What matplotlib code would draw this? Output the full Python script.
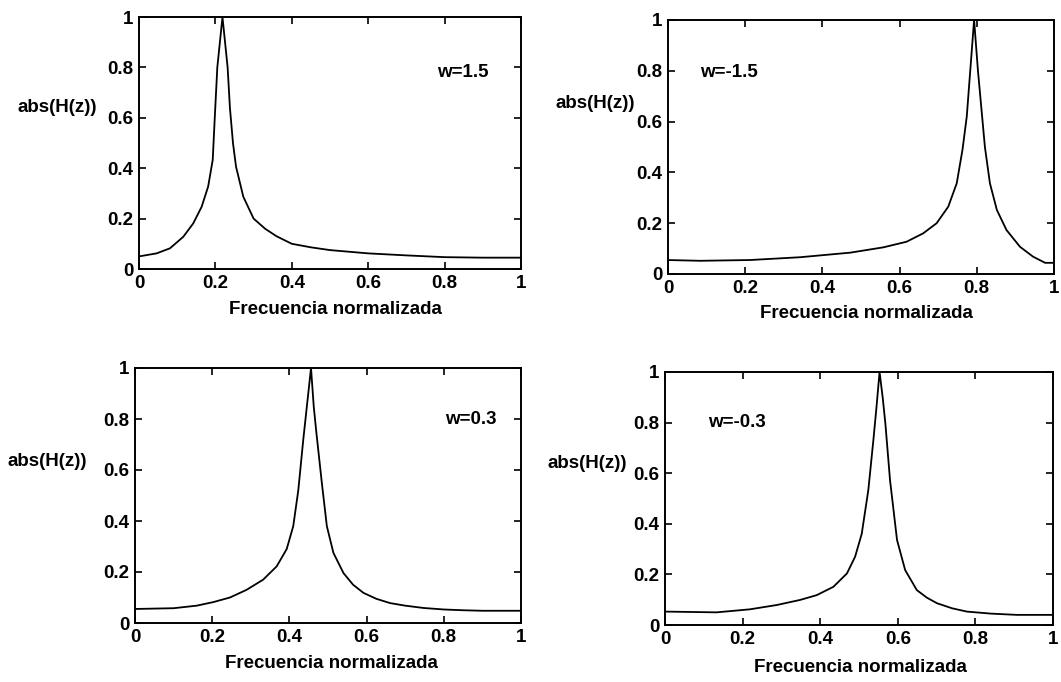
import matplotlib
matplotlib.use("Agg")
import matplotlib.pyplot as plt

# w = 1.5
x_w15 = [0.0, 0.046, 0.081, 0.116, 0.142, 0.164, 0.181, 0.193, 0.198, 0.205, 0.2185,
         0.232, 0.238, 0.246, 0.254, 0.273, 0.30, 0.33, 0.36, 0.40, 0.45, 0.50,
         0.60, 0.70, 0.80, 0.90, 1.0]
y_w15 = [0.05, 0.062, 0.082, 0.128, 0.181, 0.247, 0.327, 0.433, 0.59, 0.80, 1.0,
         0.80, 0.64, 0.50, 0.406, 0.287, 0.20, 0.16, 0.13, 0.10, 0.086, 0.075,
         0.062, 0.054, 0.047, 0.045, 0.045]

# w = -1.5
x_wm15 = [0.0, 0.083, 0.212, 0.342, 0.472, 0.558, 0.618, 0.661, 0.696, 0.726, 0.748,
          0.763, 0.774, 0.783, 0.793, 0.803, 0.812, 0.821, 0.834, 0.852, 0.877,
          0.912, 0.946, 0.977, 1.0]
y_wm15 = [0.055, 0.052, 0.055, 0.066, 0.084, 0.105, 0.127, 0.16, 0.20, 0.265, 0.357,
          0.49, 0.62, 0.80, 1.0, 0.80, 0.65, 0.50, 0.357, 0.252, 0.173,
          0.107, 0.068, 0.044, 0.044]

# w = 0.3
x_w03 = [0.0, 0.10, 0.16, 0.203, 0.246, 0.289, 0.332, 0.367, 0.393, 0.41, 0.423, 0.436,
         0.446, 0.456, 0.463, 0.47, 0.484, 0.497, 0.514, 0.54, 0.565, 0.592, 0.625,
         0.661, 0.70, 0.747, 0.80, 0.85, 0.90, 1.0]
y_w03 = [0.055, 0.058, 0.068, 0.082, 0.10, 0.13, 0.17, 0.222, 0.29, 0.38, 0.52, 0.72,
         0.86, 1.0, 0.85, 0.745, 0.55, 0.38, 0.275, 0.196, 0.15, 0.118, 0.095,
         0.078, 0.068, 0.059, 0.053, 0.05, 0.048, 0.048]

# w = -0.3
x_wm03 = [0.0, 0.133, 0.219, 0.288, 0.348, 0.391, 0.434, 0.469, 0.49, 0.507, 0.524, 0.537,
          0.545, 0.553, 0.561, 0.568, 0.58, 0.598, 0.619, 0.649, 0.675, 0.701, 0.74,
          0.778, 0.84, 0.907, 1.0]
y_wm03 = [0.053, 0.05, 0.062, 0.079, 0.099, 0.118, 0.151, 0.204, 0.27, 0.36, 0.533, 0.73,
          0.86, 1.0, 0.90, 0.796, 0.572, 0.336, 0.217, 0.138, 0.108, 0.086, 0.066,
          0.053, 0.045, 0.04, 0.04]

ticks = [0, 0.2, 0.4, 0.6, 0.8, 1]
tick_labels = ['0', '0.2', '0.4', '0.6', '0.8', '1']

W, H = 1061, 682
fig = plt.figure(figsize=(W / 100, H / 100), dpi=100)
font = dict(family='Liberation Sans', fontweight='bold', fontsize=13.5)


def px_axes(left, top, right, bottom):
    return fig.add_axes([left / W, 1 - bottom / H, (right - left) / W, (bottom - top) / H])


panels = [
    # (box px, data, annotation text/pos, ylabel pos, xlabel pos)
    ((139, 17, 521, 269), x_w15, y_w15, 'w=1.5', (0.78, 0.78), (17, 107), (335, 309)),
    ((668, 20, 1054, 274), x_wm15, y_wm15, 'w=-1.5', (0.082, 0.795), (556, 103), (866, 313)),
    ((135, 368, 521, 623), x_w03, y_w03, 'w=0.3', (0.803, 0.797), (7, 461), (331, 663)),
    ((665, 372, 1053, 625), x_wm03, y_wm03, 'w=-0.3', (0.112, 0.80), (547, 464), (860, 667)),
]

for box, xs, ys, note, note_xy, ylab_px, xlab_px in panels:
    ax = px_axes(*box)
    ax.plot(xs, ys, color='black', linewidth=1.3)
    ax.set_xlim(0, 1)
    ax.set_ylim(0, 1)
    ax.set_xticks(ticks)
    ax.set_yticks(ticks)
    ax.set_xticklabels(tick_labels, **font)
    ax.set_yticklabels(tick_labels, **font)
    ax.tick_params(direction='in', top=True, right=True, length=5, width=1.2, pad=4)
    for s in ax.spines.values():
        s.set_linewidth(1.4)
    ax.text(note_xy[0], note_xy[1], note, ha='left', va='center', **font)
    fig.text(ylab_px[0] / W, 1 - ylab_px[1] / H, 'abs(H(z))', ha='left', va='center', **font)
    fig.text(xlab_px[0] / W, 1 - xlab_px[1] / H, 'Frecuencia normalizada', ha='center', va='center', **font)

fig.savefig('out.png', dpi=100)
